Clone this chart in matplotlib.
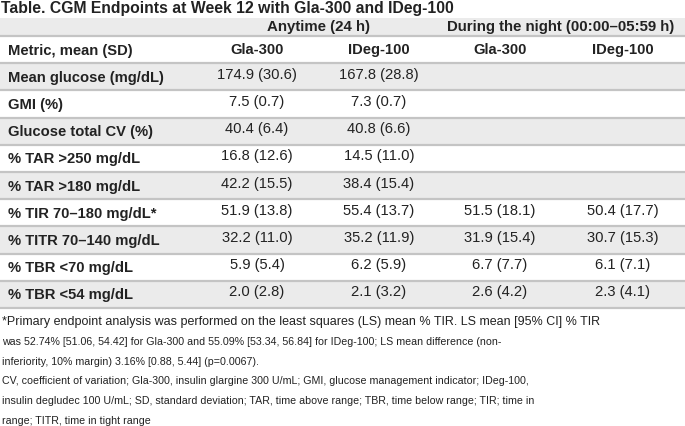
import matplotlib.pyplot as plt
from matplotlib import font_manager

# Table content
title = "Table. CGM Endpoints at Week 12 with Gla-300 and IDeg-100"
groups = ["Anytime (24 h)", "During the night (00:00\u201305:59 h)"]
col_headers = ["Metric, mean (SD)", "Gla-300", "IDeg-100", "Gla-300", "IDeg-100"]
metrics = ["Mean glucose (mg/dL)", "GMI (%)", "Glucose total CV (%)",
           "% TAR >250 mg/dL", "% TAR >180 mg/dL", "% TIR 70\u2013180 mg/dL*",
           "% TITR 70\u2013140 mg/dL", "% TBR <70 mg/dL", "% TBR <54 mg/dL"]
gla_any = ["174.9 (30.6)", "7.5 (0.7)", "40.4 (6.4)", "16.8 (12.6)", "42.2 (15.5)",
           "51.9 (13.8)", "32.2 (11.0)", "5.9 (5.4)", "2.0 (2.8)"]
ideg_any = ["167.8 (28.8)", "7.3 (0.7)", "40.8 (6.6)", "14.5 (11.0)", "38.4 (15.4)",
            "55.4 (13.7)", "35.2 (11.9)", "6.2 (5.9)", "2.1 (3.2)"]
gla_night = ["", "", "", "", "", "51.5 (18.1)", "31.9 (15.4)", "6.7 (7.7)", "2.6 (4.2)"]
ideg_night = ["", "", "", "", "", "50.4 (17.7)", "30.7 (15.3)", "6.1 (7.1)", "2.3 (4.1)"]
footnotes = [
    "*Primary endpoint analysis was performed on the least squares (LS) mean % TIR. LS mean [95% CI] % TIR",
    "was 52.74% [51.06, 54.42] for Gla-300 and 55.09% [53.34, 56.84] for IDeg-100; LS mean difference (non-",
    "inferiority, 10% margin) 3.16% [0.88, 5.44] (p=0.0067).",
    "CV, coefficient of variation; Gla-300, insulin glargine 300 U/mL; GMI, glucose management indicator; IDeg-100,",
    "insulin degludec 100 U/mL; SD, standard deviation; TAR, time above range; TBR, time below range; TIR; time in",
    "range; TITR, time in tight range",
]

names = {f.name for f in font_manager.fontManager.ttflist}
main_font = "Liberation Sans" if "Liberation Sans" in names else "DejaVu Sans"
plt.rcParams['font.family'] = [main_font, 'DejaVu Sans']

TXT = '#222222'
FILL = '#ebebeb'
LINE = '#c4c4c4'

fig = plt.figure(figsize=(6.85, 4.26), dpi=100)
ax = fig.add_axes([0, 0, 1, 1])
ax.set_xlim(0, 685)
ax.set_ylim(426, 0)
ax.axis('off')

col_x = [8, 257, 379, 500, 623]
group_x = [319, 561]

ax.text(1, 9, title, fontsize=11.3, fontweight='bold', color=TXT, va='center', ha='left')

# group header band
top, hdr_bot = 18, 36
row_h = 27.2
ax.axhspan(top, hdr_bot, color=FILL, lw=0)
for gx, g in zip(group_x, groups):
    ax.text(gx, (top + hdr_bot) / 2 + 0.5, g, fontsize=10.8, fontweight='bold',
            color=TXT, ha='center', va='center')

# column header + data rows
rows = [col_headers] + [[m, a, b, c, d] for m, a, b, c, d in
                        zip(metrics, gla_any, ideg_any, gla_night, ideg_night)]
for i, row in enumerate(rows):
    y0 = hdr_bot + i * row_h
    y1 = y0 + row_h
    if i % 2 == 1:
        ax.axhspan(y0, y1, color=FILL, lw=0)
    ax.plot([0, 685], [y0, y0], color=LINE, lw=1.6, solid_capstyle='butt')
    yc = (y0 + y1) / 2
    for j, s in enumerate(row):
        if j == 0:
            ax.text(col_x[0], yc + 1, s, fontsize=10.6, fontweight='bold', color=TXT,
                    ha='left', va='center')
        else:
            bold = i == 0
            ax.text(col_x[j], yc - (0 if bold else 2), s, fontsize=10.6,
                    fontweight='bold' if bold else 'normal', color=TXT,
                    ha='center', va='center')
ax.plot([0, 685], [hdr_bot + len(rows) * row_h] * 2, color=LINE, lw=1.6)

# footnotes (first line is set in a wider face in the original)
foot_sizes = [9.0, 7.7, 7.7, 7.7, 7.7, 7.7]
fy = 322
for k, line in enumerate(footnotes):
    ax.text(2, fy + k * 19.8, line, fontsize=foot_sizes[k], color=TXT,
            ha='left', va='center')

fig.savefig('out.png', dpi=100, facecolor='white')
